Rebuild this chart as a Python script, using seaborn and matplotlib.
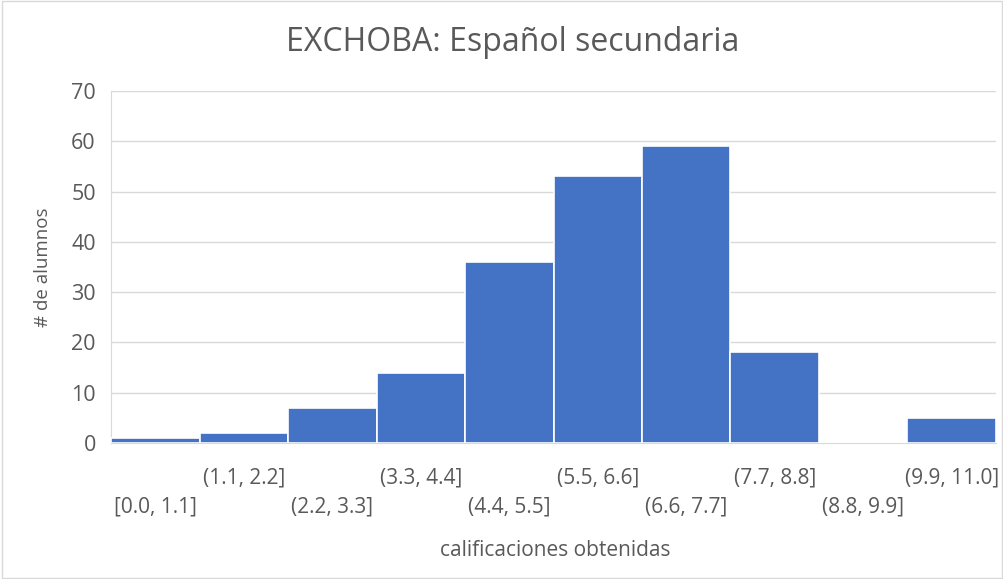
import matplotlib
matplotlib.use("Agg")
import matplotlib.pyplot as plt
import seaborn as sns

# Data
bins = ["[0.0, 1.1]", "(1.1, 2.2]", "(2.2, 3.3]", "(3.3, 4.4]", "(4.4, 5.5]",
        "(5.5, 6.6]", "(6.6, 7.7]", "(7.7, 8.8]", "(8.8, 9.9]", "(9.9, 11.0]"]
counts = [1, 2, 7, 14, 36, 53, 59, 18, 0, 5]

sns.set_style("white")
plt.rcParams['font.family'] = ['Open Sans', 'DejaVu Sans']

text_color = '#595959'
grid_color = '#d9d9d9'

fig = plt.figure(figsize=(10.04, 5.79), dpi=100)
ax = fig.add_axes([0.1106, 0.2349, 0.8814, 0.6079])

sns.barplot(x=bins, y=counts, color='#4472C4', saturation=1, width=1.0,
            edgecolor='white', linewidth=1.2, ax=ax, zorder=3)

ax.set_xlim(-0.5, len(bins) - 0.5)
ax.set_ylim(0, 70)
ax.set_yticks(range(0, 71, 10))
ax.yaxis.grid(True, color=grid_color, linewidth=1, zorder=0)
ax.set_axisbelow(True)

for side in ['top', 'right']:
    ax.spines[side].set_visible(False)
ax.spines['left'].set_color(grid_color)
ax.spines['bottom'].set_color(grid_color)

ax.tick_params(axis='y', labelsize=15.5, colors=text_color, length=0, pad=11)
ax.tick_params(axis='x', length=0, colors=text_color)
ax.set_xticks(range(len(bins)))
ax.set_xticklabels([])
# staggered category labels, like the original
for i, lab in enumerate(bins):
    y_off = -0.182 if i % 2 == 0 else -0.099
    ax.text(i, y_off, lab, transform=ax.get_xaxis_transform(), ha='center',
            va='center', fontsize=15, color=text_color)

ax.set_ylabel('# de alumnos', fontsize=13.5, color=text_color, labelpad=14)
ax.set_xlabel('')
fig.text(0.553, 0.050, 'calificaciones obtenidas', ha='center', va='center',
         fontsize=15, color=text_color)
fig.text(0.511, 0.927, 'EXCHOBA: Español secundaria', ha='center', va='center',
         fontsize=23, color=text_color)

# light chart border
fig.patches.append(plt.Rectangle((0.002, 0.002), 0.996, 0.996, transform=fig.transFigure,
                                 fill=False, edgecolor='#d9d9d9', linewidth=1))

fig.savefig('out.png', dpi=100)
